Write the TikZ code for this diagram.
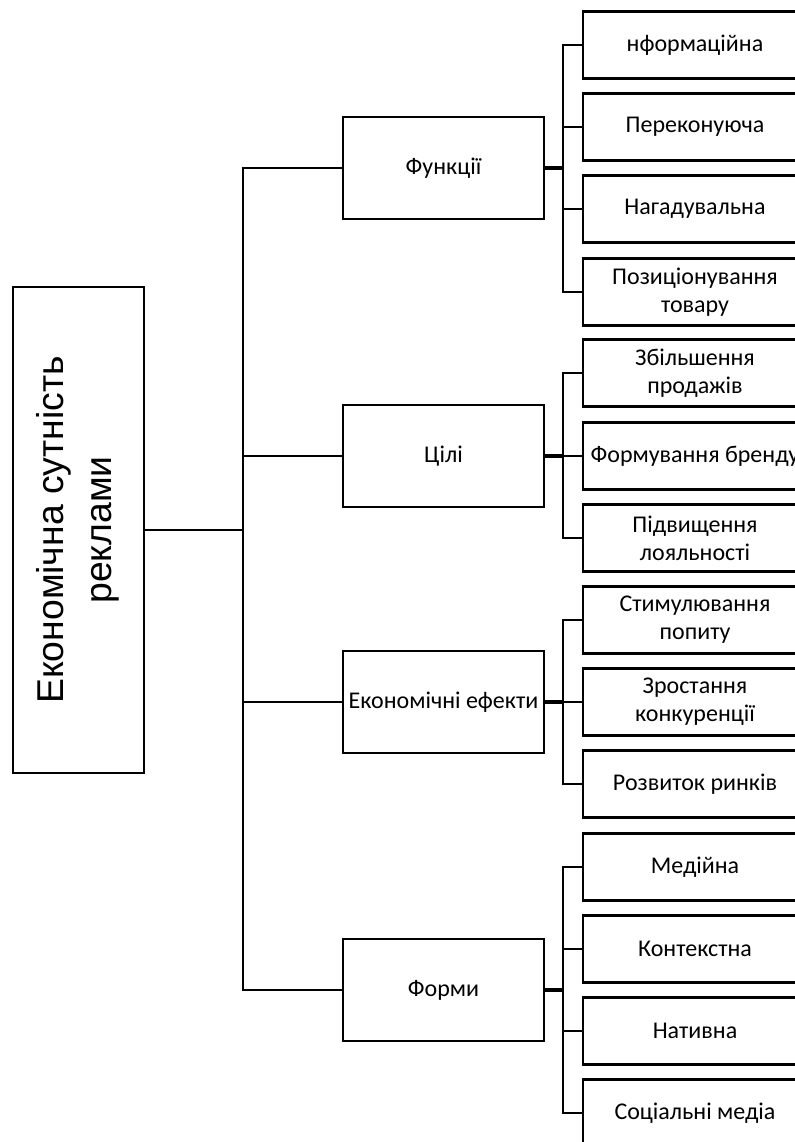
\documentclass[tikz,border=0pt]{standalone}
\usepackage{fontspec}
\setmainfont{Carlito}
\newfontfamily\titlefont{Liberation Sans}
\begin{document}
\begin{tikzpicture}[x=0.75pt,y=-0.75pt,
  line width=1.9pt,
  box/.style={draw, line width=1.9pt, rectangle, inner sep=0pt, align=center,
    font=\fontsize{18}{21}\selectfont},
  midbox/.style={box, minimum width=201*0.75pt, minimum height=102*0.75pt},
  leaf/.style={box, minimum width=224*0.75pt, minimum height=67*0.75pt},
  link/.style={line width=1.9pt},
  stub/.style={line width=2.6pt}]
\path[use as bounding box] (0,0) rectangle (795,1142);
\clip (0,0) rectangle (795,1142);

\node[box, minimum width=131*0.75pt, minimum height=486*0.75pt] (main) at (78.5,530)
  {\rotatebox{90}{\titlefont\fontsize{28}{34}\selectfont\begin{tabular}{@{}c@{}}Економічна сутність\\[2pt]реклами\end{tabular}}};

\node[midbox] (fun) at (443.5,168) {Функції};
\node[midbox] (cil) at (443.5,456) {Цілі};
\node[midbox] (ef)  at (443.5,702) {Економічні ефекти};
\node[midbox] (form) at (443.5,990) {Форми};

\node[leaf] (f1) at (695,45)  {нформаційна};
\node[leaf] (f2) at (695,127) {Переконуюча};
\node[leaf] (f3) at (695,209) {Нагадувальна};
\node[leaf] (f4) at (695,292) {Позиціонування\\товару};

\node[leaf] (c1) at (695,373) {Збільшення\\продажів};
\node[leaf] (c2) at (695,456) {Формування бренду};
\node[leaf] (c3) at (695,538) {Підвищення\\лояльності};

\node[leaf] (e1) at (695,620) {Стимулювання\\попиту};
\node[leaf] (e2) at (695,702) {Зростання\\конкуренції};
\node[leaf] (e3) at (695,784) {Розвиток ринків};

\node[leaf] (m1) at (695,867)  {Медійна};
\node[leaf] (m2) at (695,949)  {Контекстна};
\node[leaf] (m3) at (695,1031) {Нативна};
\node[leaf] (m4) at (695,1113) {Соціальні медіа};

\coordinate (tx) at (243,0);
\coordinate (bx) at (563,0);

% trunk
\draw[link] (fun.west) -- (fun.west -| tx) -- (form.west -| tx) -- (form.west);
\draw[link] (cil.west) -- (cil.west -| tx);
\draw[link] (ef.west) -- (ef.west -| tx);
\draw[link] (main.east) -- (main.east -| tx);

% Функції
\draw[stub] (fun.east) -- (fun.east -| bx);
\draw[link] (f1.west) -- (f1.west -| bx) -- (f4.west -| bx) -- (f4.west);
\draw[link] (f2.west) -- (f2.west -| bx);
\draw[link] (f3.west) -- (f3.west -| bx);

% Цілі
\draw[stub] (cil.east) -- (cil.east -| bx);
\draw[link] (c1.west) -- (c1.west -| bx) -- (c3.west -| bx) -- (c3.west);
\draw[link] (c2.west) -- (c2.west -| bx);

% Економічні ефекти
\draw[stub] (ef.east) -- (ef.east -| bx);
\draw[link] (e1.west) -- (e1.west -| bx) -- (e3.west -| bx) -- (e3.west);
\draw[link] (e2.west) -- (e2.west -| bx);

% Форми
\draw[stub] (form.east) -- (form.east -| bx);
\draw[link] (m1.west) -- (m1.west -| bx) -- (m4.west -| bx) -- (m4.west);
\draw[link] (m2.west) -- (m2.west -| bx);
\draw[link] (m3.west) -- (m3.west -| bx);
\end{tikzpicture}
\end{document}
